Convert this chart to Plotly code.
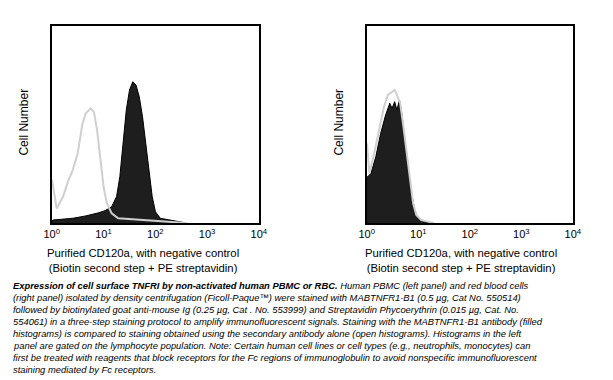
import plotly.graph_objects as go

# ---- data (log10 fluorescence position, relative cell count 0-100) ----
left_filled_log = [0.0, 0.019, 0.407, 0.657, 0.907, 1.033, 1.158, 1.252, 1.315, 1.377, 1.44, 1.502,
                   1.565, 1.628, 1.69, 1.753, 1.816, 1.878, 1.94, 2.003, 2.097, 2.285, 2.473, 2.6]
left_filled_cnt = [0, 1.5, 2.4, 3.6, 5.2, 6.3, 8.3, 13.4, 23.5, 40.4, 57.4, 67.5,
                   71.7, 70.0, 64.1, 54.0, 40.4, 25.2, 13.4, 5.7, 2.4, 1.5, 0.7, 0]
left_open_log = [0.005, 0.094, 0.219, 0.313, 0.407, 0.501, 0.595, 0.657, 0.751, 0.814, 0.876, 0.939,
                 1.001, 1.064, 1.158, 1.283, 1.534, 1.846, 2.16, 2.535, 2.6]
left_open_cnt = [22, 7.4, 13.4, 21, 27, 35.4, 50.6, 55.7, 58.2, 56.5, 47.2, 33.7,
                 18.4, 10, 4.9, 2.4, 2, 1.5, 0.8, 0.3, 0]

right_filled_log = [0.0, 0.019, 0.082, 0.176, 0.27, 0.365, 0.447, 0.491, 0.541, 0.585, 0.635, 0.679,
                    0.742, 0.805, 0.868, 0.931, 0.994, 1.088, 1.214, 1.3]
right_filled_cnt = [23.5, 23.5, 25.2, 33.7, 45.5, 54.8, 60.8, 58.2, 61.6, 57.4, 62.4, 55.7,
                    42.1, 28.6, 15.1, 6.6, 2.4, 1.0, 0.3, 0]
right_open_log = [0.005, 0.05, 0.145, 0.24, 0.334, 0.409, 0.491, 0.541, 0.585, 0.648, 0.711, 0.774,
                  0.836, 0.899, 0.962, 1.057, 1.183, 1.3]
right_open_cnt = [40.4, 25.2, 35.4, 47.2, 59.0, 65.0, 66.7, 67.5, 65.0, 60.8, 48.9, 35.4,
                  21.8, 10.0, 4.1, 1.5, 0.7, 0]

tick_vals = [1, 10, 100, 1000, 10000]
tick_text = ["10<sup>0</sup>", "10<sup>1</sup>", "10<sup>2</sup>", "10<sup>3</sup>", "10<sup>4</sup>"]
y_title = "Cell Number"
x_title = "Purified CD120a, with negative control<br>(Biotin second step + PE streptavidin)"

caption_lines = [
    "<b>Expression of cell surface TNFRI by non-activated human PBMC or RBC.</b> Human PBMC (left panel) and red blood cells",
    "(right panel) isolated by density centrifugation (Ficoll-Paque™) were stained with MABTNFR1-B1 (0.5 µg, Cat No. 550514)",
    "followed by biotinylated goat anti-mouse Ig (0.25 µg, Cat . No. 553999) and Streptavidin Phycoerythrin (0.015 µg, Cat. No.",
    "554061) in a three-step staining protocol to amplify immunofluorescent signals. Staining with the MABTNFR1-B1 antibody (filled",
    "histograms) is compared to staining obtained using the secondary antibody alone (open histograms). Histograms in the left",
    "panel are gated on the lymphocyte population. Note: Certain human cell lines or cell types (e.g., neutrophils, monocytes) can",
    "first be treated with reagents that block receptors for the Fc regions of immunoglobulin to avoid nonspecific immunofluorescent",
    "staining mediated by Fc receptors.",
]

W, H = 613, 380
FONT = "Liberation Sans, Arial, sans-serif"
FILL = "#1e1e1e"
GRAY = "#cfcfcf"

def px(v):
    return [10 ** a for a in v]

fig = go.Figure()
fig.add_trace(go.Scatter(x=px(left_filled_log), y=left_filled_cnt, mode="lines", fill="tozeroy",
                         fillcolor=FILL, line=dict(color="#000000", width=1), xaxis="x", yaxis="y"))
fig.add_trace(go.Scatter(x=px(left_open_log), y=left_open_cnt, mode="lines",
                         line=dict(color=GRAY, width=2), xaxis="x", yaxis="y"))
fig.add_trace(go.Scatter(x=px(right_filled_log), y=right_filled_cnt, mode="lines", fill="tozeroy",
                         fillcolor=FILL, line=dict(color="#000000", width=1), xaxis="x2", yaxis="y2"))
fig.add_trace(go.Scatter(x=px(right_open_log), y=right_open_cnt, mode="lines",
                         line=dict(color=GRAY, width=2), xaxis="x2", yaxis="y2"))

def xax(domain, anchor):
    return dict(domain=domain, anchor=anchor, type="log", range=[0, 4], tickvals=tick_vals,
                ticktext=tick_text, showgrid=False, zeroline=False, showline=True, mirror=True,
                linecolor="#000000", linewidth=2, ticks="", tickfont=dict(family=FONT, size=11, color="#000"))

def yax(domain, anchor):
    return dict(domain=domain, anchor=anchor, range=[0, 100], showgrid=False, zeroline=False,
                showline=True, mirror=True, linecolor="#000000", linewidth=2, showticklabels=False, ticks="")

ydom = [1 - 223 / H, 1 - 26 / H]
fig.update_layout(
    width=W, height=H, margin=dict(l=0, r=0, t=0, b=0),
    paper_bgcolor="white", plot_bgcolor="white", showlegend=False,
    xaxis=xax([45 / W, 258 / W], "y"), yaxis=yax(ydom, "x"),
    xaxis2=xax([369 / W, 581 / W], "y2"), yaxis2=yax(ydom, "x2"),
)

ann = []
for cx in [16, 340]:
    ann.append(dict(text=y_title, x=cx / W, y=1 - 122 / H, xref="paper", yref="paper", textangle=-90,
                    showarrow=False, font=dict(family=FONT, size=12, color="#000"), xanchor="center", yanchor="middle"))
for cx in [139, 466]:
    ann.append(dict(text=x_title, x=cx / W, y=1 - 260 / H, xref="paper", yref="paper", showarrow=False,
                    font=dict(family=FONT, size=11.3, color="#000"), xanchor="center", yanchor="middle"))
for i, line in enumerate(caption_lines):
    ann.append(dict(text="<i>" + line + "</i>", x=3 / W, y=1 - (285 + 12.1 * i) / H, xref="paper", yref="paper",
                    showarrow=False, xanchor="left", yanchor="middle", align="left",
                    font=dict(family=FONT, size=9.4, color="#000")))
fig.update_layout(annotations=ann)

fig.write_html("out.html", config={"displayModeBar": False},
               post_script="document.body.style.margin='0';document.body.style.overflow='hidden';")
